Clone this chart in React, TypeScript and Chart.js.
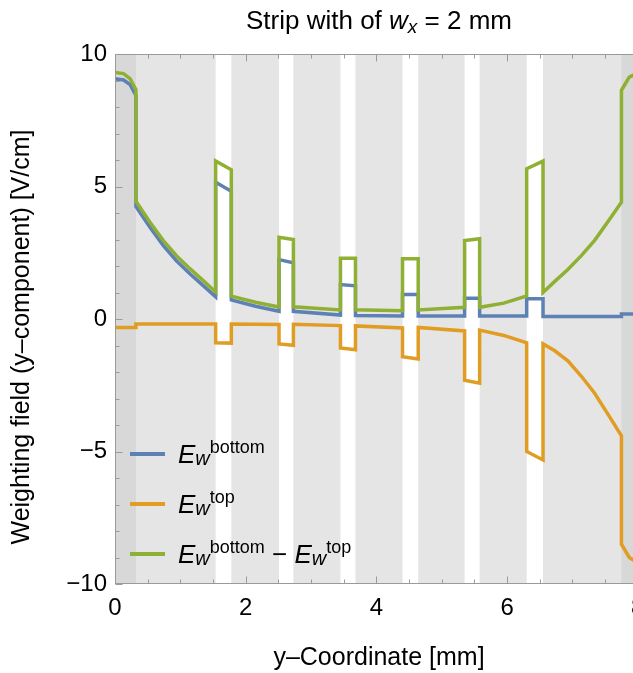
import React, { useEffect, useRef } from "react";
import { Chart, registerables } from "chart.js";

Chart.register(...registerables);

// y-Coordinate [mm] sample positions (shared by all series; repeated x = vertical step)
const X = [
  0, 0.13, 0.23, 0.32, 0.32, 0.535, 0.74, 0.94, 1.15, 1.35, 1.54, 1.54, 1.78, 1.78, 2.15, 2.51,
  2.51, 2.73, 2.73, 3.45, 3.45, 3.68, 3.68, 4.4, 4.4, 4.64, 4.64, 5.35, 5.35, 5.58, 5.58, 5.95,
  6.3, 6.3, 6.55, 6.55, 6.73, 6.93, 7.14, 7.34, 7.545, 7.75, 7.75, 7.87, 8.0, 8.08,
];

// E_w^bottom
const bottomY = [
  9.07, 9.02, 8.85, 8.44, 4.25, 3.46, 2.77, 2.2, 1.7, 1.26, 0.84, 5.16, 4.82, 0.72, 0.48, 0.29,
  2.24, 2.12, 0.29, 0.15, 1.3, 1.25, 0.13, 0.11, 0.92, 0.92, 0.11, 0.11, 0.78, 0.78, 0.11, 0.11,
  0.11, 0.76, 0.76, 0.09, 0.09, 0.09, 0.09, 0.09, 0.09, 0.09, 0.19, 0.19, 0.19, 0.19,
];

// E_w^top
const topY = [
  -0.32, -0.32, -0.32, -0.32, -0.19, -0.19, -0.19, -0.19, -0.19, -0.19, -0.19, -0.9, -0.91, -0.19,
  -0.2, -0.21, -0.94, -0.99, -0.2, -0.25, -1.09, -1.16, -0.26, -0.34, -1.42, -1.51, -0.32, -0.45,
  -2.31, -2.42, -0.42, -0.62, -0.9, -5.0, -5.32, -0.94, -1.2, -1.58, -2.17, -2.8, -3.6, -4.41,
  -8.5, -9.0, -9.2, -9.25,
];

// E_w^bottom - E_w^top
const diffY = [
  9.3, 9.26, 9.07, 8.65, 4.44, 3.65, 2.96, 2.39, 1.89, 1.45, 1.02, 5.96, 5.63, 0.86, 0.63, 0.45,
  3.08, 3.0, 0.46, 0.34, 2.29, 2.29, 0.35, 0.31, 2.27, 2.27, 0.34, 0.44, 2.96, 3.03, 0.44, 0.6,
  0.87, 5.67, 5.96, 1.0, 1.42, 1.87, 2.4, 2.97, 3.68, 4.41, 8.63, 9.13, 9.28, 9.3,
];

// Shaded regions [mm]
const gapStarts = [1.54, 2.51, 3.45, 4.4, 5.35, 6.3];
const gapEnds = [1.78, 2.73, 3.68, 4.64, 5.58, 6.55];
const edgeStarts = [0, 7.75];
const edgeEnds = [0.32, 8.08];

const X_MIN = 0;
const X_MAX = 8.08;
const Y_MIN = -10;
const Y_MAX = 10;

const FONT = "'Liberation Sans', Arial, Helvetica, sans-serif";
const BLUE = "#5E81B5";
const ORANGE = "#E19C24";
const GREEN = "#8FB032";
const LIGHT = "#e5e5e5";
const DARK = "#d8d8d8";
const FRAME = "#9a9a9a";

const fmt = (v: number) => (v < 0 ? "\u2212" + Math.abs(v) : String(v));

const bandsPlugin = {
  id: "bandsFrame",
  beforeDatasetsDraw(chart: any) {
    const { ctx, chartArea: a, scales } = chart;
    const xs = scales.x;
    ctx.save();
    ctx.fillStyle = LIGHT;
    ctx.fillRect(a.left, a.top, a.right - a.left, a.bottom - a.top);
    ctx.fillStyle = "#ffffff";
    gapStarts.forEach((s, i) => {
      const x0 = xs.getPixelForValue(s);
      const x1 = xs.getPixelForValue(gapEnds[i]);
      ctx.fillRect(x0, a.top, x1 - x0, a.bottom - a.top);
    });
    ctx.fillStyle = DARK;
    edgeStarts.forEach((s, i) => {
      const x0 = xs.getPixelForValue(s);
      const x1 = xs.getPixelForValue(edgeEnds[i]);
      ctx.fillRect(x0, a.top, x1 - x0, a.bottom - a.top);
    });
    ctx.restore();
  },
  afterDatasetsDraw(chart: any) {
    const { ctx, chartArea: a, scales } = chart;
    const xs = scales.x;
    const ys = scales.y;
    const L = Math.round(a.left) + 0.5;
    const R = Math.round(a.right) - 0.5;
    const T = Math.round(a.top) + 0.5;
    const B = Math.round(a.bottom) - 0.5;
    ctx.save();
    ctx.strokeStyle = FRAME;
    ctx.lineWidth = 1;
    ctx.beginPath();
    ctx.moveTo(L, T);
    ctx.lineTo(R, T);
    ctx.lineTo(R, B);
    ctx.lineTo(L, B);
    ctx.closePath();
    ctx.stroke();
    ctx.beginPath();
    xs.ticks.forEach((t: any) => {
      const px = Math.round(xs.getPixelForValue(t.value)) + 0.5;
      const len = t.value % 2 === 0 ? 7 : 4;
      ctx.moveTo(px, B);
      ctx.lineTo(px, B - len);
      ctx.moveTo(px, T);
      ctx.lineTo(px, T + len);
    });
    ys.ticks.forEach((t: any) => {
      const py = Math.round(ys.getPixelForValue(t.value)) + 0.5;
      const len = t.value % 5 === 0 ? 7 : 4;
      ctx.moveTo(L, py);
      ctx.lineTo(L + len, py);
      ctx.moveTo(R, py);
      ctx.lineTo(R - len, py);
    });
    ctx.stroke();
    ctx.restore();
  },
};

function Ew({ sup }: { sup: string }) {
  return (
    <span>
      <i>E</i>
      <span style={{ position: "relative", top: 2, fontSize: 20, fontStyle: "italic" }}>w</span>
      <span style={{ position: "relative", top: -10, fontSize: 18 }}>{sup}</span>
    </span>
  );
}

export default function App() {
  const canvasRef = useRef<HTMLCanvasElement>(null);

  useEffect(() => {
    if (!canvasRef.current) return;
    const mk = (ys: number[]) => X.map((x, i) => ({ x, y: ys[i] }));
    const chart = new Chart(canvasRef.current, {
      type: "line",
      data: {
        datasets: [
          { label: "E_w^bottom", data: mk(bottomY), borderColor: BLUE, order: 3 },
          { label: "E_w^top", data: mk(topY), borderColor: ORANGE, order: 2 },
          { label: "E_w^bottom - E_w^top", data: mk(diffY), borderColor: GREEN, order: 1 },
        ].map((d) => ({
          ...d,
          borderWidth: 3.5,
          pointRadius: 0,
          pointHoverRadius: 0,
          tension: 0,
          fill: false,
        })),
      },
      options: {
        animation: false,
        responsive: true,
        maintainAspectRatio: false,
        events: [],
        layout: { padding: { top: 54, right: 12, left: 0, bottom: 0 } },
        plugins: {
          legend: { display: false },
          tooltip: { enabled: false },
          title: { display: false },
        },
        scales: {
          x: {
            type: "linear",
            min: X_MIN,
            max: X_MAX,
            grid: { display: false, drawTicks: false },
            border: { display: false },
            ticks: {
              stepSize: 0.5,
              autoSkip: false,
              includeBounds: false,
              maxRotation: 0,
              padding: 10,
              color: "#000",
              font: { family: FONT, size: 24 },
              callback: (v: any) => (Number(v) % 2 === 0 ? fmt(Number(v)) : ""),
            },
            title: {
              display: true,
              text: "y\u2013Coordinate [mm]",
              color: "#000",
              font: { family: FONT, size: 25 },
              padding: { top: 0, bottom: 0 },
            },
            afterFit: (s: any) => {
              s.height = 89;
            },
          },
          y: {
            type: "linear",
            min: Y_MIN,
            max: Y_MAX,
            grid: { display: false, drawTicks: false },
            border: { display: false },
            ticks: {
              stepSize: 1,
              autoSkip: false,
              padding: 8,
              color: "#000",
              font: { family: FONT, size: 24 },
              callback: (v: any) => (Number(v) % 5 === 0 ? fmt(Number(v)) : ""),
            },
            afterFit: (s: any) => {
              s.width = 115;
            },
          },
        },
      },
      plugins: [bandsPlugin],
    });
    return () => chart.destroy();
  }, []);

  const legendRows = [
    { color: BLUE, y: 454, content: <Ew sup="bottom" /> },
    { color: ORANGE, y: 504, content: <Ew sup="top" /> },
    {
      color: GREEN,
      y: 554,
      content: (
        <span>
          <Ew sup="bottom" /> {"\u2212"} <Ew sup="top" />
        </span>
      ),
    },
  ];

  return (
    <div
      style={{
        position: "absolute",
        left: 0,
        top: 0,
        width: 633,
        height: 673,
        overflow: "hidden",
        background: "#fff",
        fontFamily: FONT,
        color: "#000",
      }}
    >
      <div style={{ position: "absolute", left: 0, top: 0, width: 655, height: 673 }}>
        <canvas ref={canvasRef} />
      </div>
      <div
        style={{
          position: "absolute",
          left: 129,
          top: 7,
          width: 500,
          textAlign: "center",
          fontSize: 26,
          lineHeight: "26px",
          whiteSpace: "nowrap",
        }}
      >
        Strip with of <i>w</i>
        <span style={{ position: "relative", top: 4, fontSize: 19, fontStyle: "italic" }}>x</span> = 2 mm
      </div>
      <div
        style={{
          position: "absolute",
          left: 20 - 250,
          top: 337 - 15,
          width: 500,
          height: 30,
          lineHeight: "30px",
          fontSize: 25,
          textAlign: "center",
          whiteSpace: "nowrap",
          transform: "rotate(-90deg)",
        }}
      >
        Weighting field (y{"\u2013"}component) [V/cm]
      </div>
      {legendRows.map((r, i) => (
        <React.Fragment key={i}>
          <div
            style={{
              position: "absolute",
              left: 130,
              top: r.y - 2,
              width: 35,
              height: 4,
              background: r.color,
            }}
          />
          <div
            style={{
              position: "absolute",
              left: 178,
              top: r.y + 9 - 22,
              fontSize: 26,
              lineHeight: "26px",
              whiteSpace: "nowrap",
            }}
          >
            {r.content}
          </div>
        </React.Fragment>
      ))}
    </div>
  );
}
